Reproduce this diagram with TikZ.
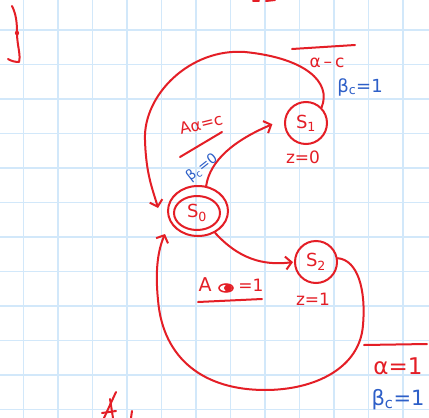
\documentclass[tikz,border=0pt]{standalone}
\usepackage{fontspec}
\setmainfont{DejaVu Sans}
\usetikzlibrary{arrows.meta,shapes.geometric}
\definecolor{pen}{RGB}{228,30,38}
\definecolor{bpen}{RGB}{45,95,200}
\definecolor{gridc}{RGB}{210,232,250}
\newcommand{\fs}[1]{\fontsize{#1}{#1}\selectfont}
\begin{document}
\begin{tikzpicture}[x=1pt,y=-1pt,
  redline/.style={draw=pen, line width=2pt, line cap=round, line join=round},
  tipped/.style={-{Straight Barb[length=6pt,width=13pt,line width=2pt]}},
  state/.style={circle, draw=pen, line width=2pt, minimum size=42pt, inner sep=0pt, text=pen, font=\fs{18}},
  redtxt/.style={text=pen, inner sep=0pt, font=\fs{17}},
  bluetxt/.style={text=bpen, inner sep=0pt, font=\fs{17}}]
\useasboundingbox (0,0) rectangle (429,418);
\fill[white] (0,0) rectangle (429,418);
\foreach \i in {0,...,11} {
  \draw[gridc, line width=1.4pt] (23.5+34.5*\i,0) -- (23.5+34.5*\i,418);
  \draw[gridc, line width=1.4pt] (0,30+34.5*\i) -- (429,30+34.5*\i);
}
% states
\node[ellipse, draw=pen, line width=2pt, minimum width=60pt, minimum height=50pt, inner sep=0pt] (s0) at (198,211) {};
\node[ellipse, draw=pen, line width=2pt, minimum width=46pt, minimum height=34pt, inner sep=0pt, text=pen, font=\fs{18}] (s0in) at (197,213) {S\textsubscript{0}};
\node[state] (s1) at (306,123) {S\textsubscript{1}};
\node[state] (s2) at (316,262) {S\textsubscript{2}};
% arrival points
\coordinate (s0top) at (158,208);
\coordinate (s0bot) at (165,234);
% transitions
\draw[redline, tipped, shorten >=13pt] (s0.72) .. controls (210,160) and (235,140) .. (s1.170);
\draw[redline, tipped] (s1.45) .. controls (332,82) and (305,58) .. (245,52)
   .. controls (190,48) and (143,95) .. (145,140)
   .. controls (146,175) and (153,190) .. (s0top);
\draw[redline, tipped, shorten >=1pt] (s0.-52) .. controls (238,258) and (262,266) .. (s2.west);
\draw[redline, tipped] (s2.10) .. controls (358,260) and (366,290) .. (363,325)
   .. controls (360,368) and (315,390) .. (265,390)
   .. controls (205,390) and (163,360) .. (158,300)
   .. controls (155,270) and (158,250) .. (s0bot);
% labels
\node[redtxt, rotate=14, font=\fs{16}] (l1) at (201,124) {Aα=c};
\draw[redline] (180,157) -- (222,132);
\node[bluetxt, rotate=38, font=\fs{14}] (l2) at (202,168) {β\textsubscript{c}=0};
\node[redtxt] (z0) at (303,157) {z=0};
\node[redtxt] (z1) at (313,299) {z=1};
\draw[redline] (292,49) -- (355,45);
\node[redtxt] (l3) at (327,63) {α\,–\,c};
\node[bluetxt, font=\fs{18}] (l4) at (360,87) {β\textsubscript{c}=1};
\node[redtxt, font=\fs{19}] (l5a) at (205,285) {A};
\draw[pen, line width=1.5pt] (226,288) ellipse (7 and 4);
\fill[pen] (228,288) ellipse (4 and 3.5);
\node[redtxt] (l5b) at (251,285) {=1};
\draw[redline] (198,302) -- (262,299);
\draw[redline] (364,345) -- (427,344);
\node[redtxt, font=\fs{23}] (l6) at (398,366) {α=1};
\node[bluetxt, font=\fs{21}] (l7) at (398,400) {β\textsubscript{c}=1};
% stray marks
\draw[redline] (12,6) .. controls (16,14) and (17,22) .. (17,33) .. controls (17,45) and (21,55) .. (19,62) .. controls (15,62) and (11,61) .. (8,59);
\fill[pen] (17,33) circle (2.2);
\draw[redline] (253,1) -- (259,1);
\draw[redline] (266,1) -- (275,0);
\draw[redline] (116,392) -- (104,418);
\draw[redline] (110,399) -- (113,418);
\draw[redline] (102,413) -- (116,411);
\draw[redline] (132,411) -- (131,418);
\end{tikzpicture}
\end{document}
